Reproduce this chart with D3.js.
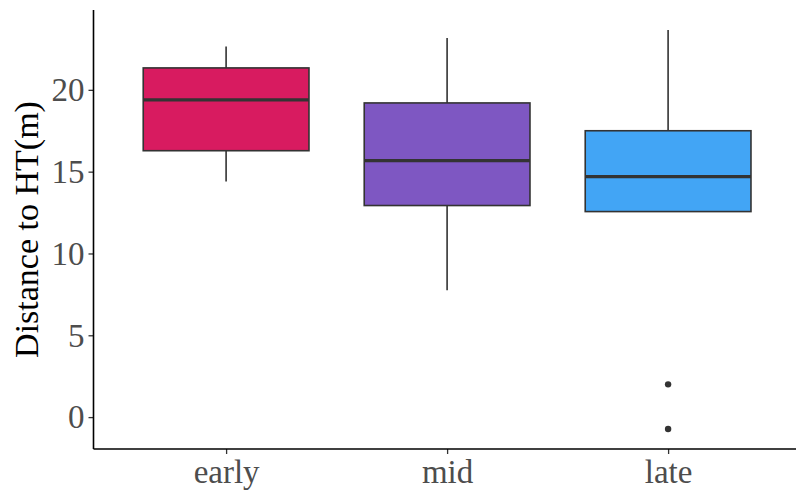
<!DOCTYPE html>
<html>
<head>
<meta charset="utf-8">
<script src="https://cdn.jsdelivr.net/npm/d3@7"></script>
<style>
body{margin:0;background:#fff;}
svg{display:block;}
</style>
</head>
<body>
<div id="chart"></div>
<script>
// 数据
const categories=["early","mid","late"];
const whiskerLow=[14.4,7.75,12.56];
const q1=[16.28,12.93,12.56];
const median=[19.39,15.67,14.7];
const q3=[21.34,19.2,17.5];
const whiskerHigh=[22.65,23.17,23.66];
const outlierCat=["late","late"];
const outlierVal=[2.0,-0.73];
const fills=["#D81B60","#7E57C2","#42A5F5"];
const yTicks=[0,5,10,15,20];

const width=796,height=491;
const margin={left:93.5,top:10,bottom:42};
const plotBottom=height-margin.bottom;
const font="'Liberation Serif','Times New Roman',serif";

const svg=d3.select("#chart").append("svg").attr("width",width).attr("height",height);

// 比例尺 (ggplot 的 5% 扩展)
const lo=d3.min(outlierVal.concat(whiskerLow)),hi=d3.max(whiskerHigh);
const pad=(hi-lo)*0.05;
const y=d3.scaleLinear().domain([lo-pad,hi+pad]).range([plotBottom,margin.top]);
const step=221;
const x=d3.scaleLinear().domain([0.4,3.6]).range([margin.left,margin.left+3.2*step]);
const pos=c=>x(categories.indexOf(c)+1);
const boxW=0.75*step;

const stroke="#333333";
const g=svg.append("g");

categories.forEach((c,i)=>{
    const cx=pos(c);
    g.append("line").attr("x1",cx).attr("x2",cx).attr("y1",y(q3[i])).attr("y2",y(whiskerHigh[i]))
        .attr("stroke",stroke).attr("stroke-width",1.6);
    g.append("line").attr("x1",cx).attr("x2",cx).attr("y1",y(q1[i])).attr("y2",y(whiskerLow[i]))
        .attr("stroke",stroke).attr("stroke-width",1.6);
    g.append("rect").attr("x",cx-boxW/2).attr("width",boxW)
        .attr("y",y(q3[i])).attr("height",y(q1[i])-y(q3[i]))
        .attr("fill",fills[i]).attr("stroke",stroke).attr("stroke-width",1.6);
    g.append("line").attr("x1",cx-boxW/2).attr("x2",cx+boxW/2).attr("y1",y(median[i])).attr("y2",y(median[i]))
        .attr("stroke",stroke).attr("stroke-width",3.2);
});

g.selectAll(".outlier").data(outlierVal).enter().append("circle")
    .attr("class","outlier")
    .attr("cx",(d,i)=>pos(outlierCat[i]))
    .attr("cy",d=>y(d))
    .attr("r",3.2)
    .attr("fill",stroke);

// 轴
const yAxis=d3.axisLeft(y).tickValues(yTicks).tickSize(5).tickPadding(4);
const yAxisG=svg.append("g").attr("transform",`translate(${margin.left},0)`).call(yAxis);
const xAxis=d3.axisBottom(x).tickValues([1,2,3]).tickFormat(d=>categories[d-1]).tickSize(5).tickPadding(3);
const xAxisG=svg.append("g").attr("transform",`translate(0,${plotBottom})`).call(xAxis);

[yAxisG,xAxisG].forEach(a=>{
    a.select(".domain").remove();
    a.selectAll(".tick line").attr("stroke",stroke).attr("stroke-width",1.3);
    a.selectAll(".tick text").attr("fill","#4D4D4D")
        .style("font-family",font).style("font-size","33px");
});
yAxisG.selectAll(".tick text").attr("dy","0.33em");
xAxisG.selectAll(".tick text").attr("dy","0.8em");

svg.append("line").attr("x1",margin.left).attr("x2",margin.left).attr("y1",margin.top).attr("y2",plotBottom)
    .attr("stroke","#000").attr("stroke-width",1.6);
svg.append("line").attr("x1",margin.left).attr("x2",width).attr("y1",plotBottom).attr("y2",plotBottom)
    .attr("stroke","#000").attr("stroke-width",1.6);

svg.append("text")
    .attr("transform",`translate(38,${(margin.top+plotBottom)/2}) rotate(-90)`)
    .attr("text-anchor","middle")
    .style("font-family",font)
    .style("font-size","34px")
    .attr("fill","#000")
    .text("Distance to HT(m)");
</script>
</body>
</html>
